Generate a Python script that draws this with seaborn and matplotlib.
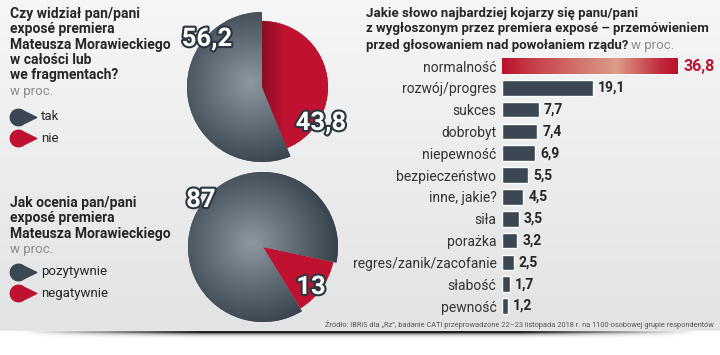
import numpy as np
import matplotlib
matplotlib.use("Agg")
import matplotlib.pyplot as plt
import matplotlib.patheffects as pe
from matplotlib.colors import LinearSegmentedColormap
from matplotlib.path import Path
import seaborn as sns

# data
seen_labels = ["tak", "nie"]
seen_values = [56.2, 43.8]
rating_labels = ["pozytywnie", "negatywnie"]
rating_values = [87, 13]
words = ["normalność", "rozwój/progres", "sukces", "dobrobyt", "niepewność",
         "bezpieczeństwo", "inne, jakie?", "siła", "porażka",
         "regres/zanik/zacofanie", "słabość", "pewność"]
word_values = [36.8, 19.1, 7.7, 7.4, 6.9, 5.5, 4.5, 3.5, 3.2, 2.5, 1.7, 1.2]

GRAY = "#3b4752"
RED = "#bf1230"
TEXT = "#262626"
LIGHT = "#8c8c8c"
W, H = 720, 355

sns.set_theme(style="white")
plt.rcParams["font.family"] = ["Roboto", "DejaVu Sans"]
NARROW = ["Liberation Sans Narrow", "Roboto", "DejaVu Sans"]

fig = plt.figure(figsize=(7.2, 3.55), dpi=100)


def px_axes(x, y, w, h):
    return fig.add_axes([x / W, 1 - (y + h) / H, w / W, h / H])


def fmt(v):
    return f"{v:g}".replace(".", ",")


# background
bg = px_axes(0, 0, W, H)
grad = np.linspace(0, 1, 256).reshape(-1, 1)
bg.imshow(grad, cmap=LinearSegmentedColormap.from_list("bg", ["#f6f6f6", "#e2e3e5"]),
          extent=[0, W, 331, 0], aspect="auto", zorder=0)
bg.axhspan(331, H, color="white", zorder=0)
# bottom rule with tapered ends
xs = np.linspace(0, 1, 720)
alpha_x = np.clip(np.minimum(xs - 0.03, 0.97 - xs) / 0.25, 0, 1)
rule = np.zeros((8, 720, 4))
rule[..., :3] = 0.13
alpha_y = np.array([1, 1, 0.6, 0.35, 0.2, 0.1, 0.05, 0.0])[:, None]
rule[..., 3] = alpha_y * alpha_x[None, :]
bg.imshow(rule, extent=[0, W, 339, 331], aspect="auto", zorder=1)
bg.set_xlim(0, W)
bg.set_ylim(H, 0)
bg.axis("off")


def shade(ax, wedge, inner, outer, c=(-0.15, 0.05)):
    g = np.linspace(-1.1, 1.1, 300)
    X, Y = np.meshgrid(g, g[::-1])
    d = np.clip(np.hypot(X - c[0], Y - c[1]) / 1.15, 0, 1)
    im = ax.imshow(d, cmap=LinearSegmentedColormap.from_list("s", [inner, outer]),
                   extent=[-1.1, 1.1, -1.1, 1.1], vmin=0, vmax=1, zorder=3)
    im.set_clip_path(wedge)


def pie(box, values, start, red_r, fold=False):
    ax = px_axes(*box)
    wedges, _ = ax.pie(values, colors=[GRAY, RED], startangle=start,
                       wedgeprops=dict(linewidth=0))
    wedges[1].set_radius(red_r)
    shade(ax, wedges[0], "#8d98a2", "#36414b")
    if fold:
        # darker band along the straight edge of the red slice
        g = np.linspace(-1.1, 1.1, 300)
        X, _ = np.meshgrid(g, g)
        d = np.clip(X / 0.3, 0, 1)
        im = ax.imshow(d, cmap=LinearSegmentedColormap.from_list("f", ["#8c0c22", RED]),
                       extent=[-1.1, 1.1, -1.1, 1.1], vmin=0, vmax=1, zorder=3)
        im.set_clip_path(wedges[1])
    ax.set_xlim(-1, 1)
    ax.set_ylim(-1, 1)
    ax.axis("off")
    return ax


pie((187, 12, 150, 150), seen_values, 90, 0.88, fold=True)
pie((188, 172, 150, 150), rating_values, -12, 0.96)

# bar chart
scale = 4.77
row = 21.82
ax = px_axes(502, 66 - row / 2, 200, row * len(words))
sns.barplot(x=word_values, y=words, hue=words, palette=[RED] + [GRAY] * (len(words) - 1),
            legend=False, orient="h", width=0.72, saturation=1, ax=ax)
top = max(ax.patches, key=lambda p: p.get_width())
bx, by, bw, bh = top.get_x(), top.get_y(), top.get_width(), top.get_height()
hg = np.linspace(0, 1, 200)
hg = np.interp(hg, [0, 0.15, 0.65, 0.9, 1], [0, 0.3, 1, 0.2, 0]).reshape(1, -1)
im = ax.imshow(hg, cmap=LinearSegmentedColormap.from_list("b", ["#bb0f2c", "#dc9c86"]),
               extent=[bx, bx + bw, by + bh, by], aspect="auto", zorder=3)
im.set_clip_path(top)

for i, v in enumerate(word_values):
    if i == 0:
        ax.text(v + 6 / scale, i, fmt(v), va="center", fontsize=11.5, fontweight="bold",
                color=RED, family=NARROW)
    else:
        ax.text(v + 5 / scale, i, fmt(v), va="center", fontsize=10, fontweight="bold",
                color=TEXT, family=NARROW)

ax.set_xlim(0, 200 / scale)
ax.set_ylim(len(words) - 0.5, -0.5)
ax.set_xticks([])
ax.set_xlabel("")
ax.set_ylabel("")
ax.tick_params(axis="y", length=0, pad=4, labelsize=10, labelcolor="#333333")
sns.despine(ax=ax, left=True, bottom=True)
ax.patch.set_alpha(0)

# overlay for texts drawn above the pies
fg = px_axes(0, 0, W, H)
fg.set_xlim(0, W)
fg.set_ylim(H, 0)
fg.axis("off")

num_kw = dict(fontsize=18.5, fontweight="bold", color="white", ha="center", va="center",
              family=NARROW, zorder=5,
              path_effects=[pe.withStroke(linewidth=3, foreground="#2b353f")])
fg.text(207, 39, fmt(seen_values[0]), **num_kw)
fg.text(321, 123, fmt(seen_values[1]), **num_kw)
fg.text(201, 200, fmt(rating_values[0]), **num_kw)
fg.text(311, 287, fmt(rating_values[1]), **num_kw)

# left-hand questions
fg.text(10, 7, "Czy widział pan/pani\nexposé premiera\nMateusza Morawieckiego\nw całości lub\nwe fragmentach?",
        fontsize=10, fontweight="bold", color=TEXT, va="top", linespacing=1.12)
fg.text(10, 91, "w proc.", fontsize=9.5, color=LIGHT, va="center")
fg.text(10, 196, "Jak ocenia pan/pani\nexposé premiera\nMateusza Morawieckiego",
        fontsize=10, fontweight="bold", color=TEXT, va="top", linespacing=1.12)
fg.text(10, 249, "w proc.", fontsize=9.5, color=LIGHT, va="center")

# teardrop legend marker
ang = np.linspace(np.radians(50), np.radians(310), 40)
drop = np.column_stack([np.cos(ang) - 0.6, np.sin(ang)])
drop = np.vstack([drop, [[1.6, 0.0], drop[0]]])
drop_marker = Path(drop)

for lbl, col, y in [(seen_labels[0], GRAY, 117), (seen_labels[1], RED, 138),
                    (rating_labels[0], GRAY, 272), (rating_labels[1], RED, 293)]:
    fg.plot([23], [y], marker=drop_marker, markersize=19, color=col, linestyle="none")
    fg.text(41, y, lbl, fontsize=9.5, color=TEXT, va="center")

# right-hand title
fg.text(366, 7, "Jakie słowo najbardziej kojarzy się panu/pani\nz wygłoszonym przez premiera exposé – przemówieniem",
        fontsize=9.5, fontweight="bold", color=TEXT, va="top", linespacing=1.2)
t = fg.text(366, 45, "przed głosowaniem nad powołaniem rządu?", fontsize=9.5,
            fontweight="bold", color=TEXT, va="center")
fig.canvas.draw()
bb = t.get_window_extent(renderer=fig.canvas.get_renderer())
x_end = fg.transData.inverted().transform((bb.x1, 0))[0]
fg.text(x_end + 3, 45, "w proc.", fontsize=9.5, color=LIGHT, va="center")

fg.text(714, 325, "Źródło: IBRiS dla „Rz”, badanie CATI przeprowadzone 22–23 listopada 2018 r. na 1100-osobowej grupie respondentów",
        fontsize=5.3, color="#555555", ha="right", va="center")

fig.savefig("out.png", dpi=100)
